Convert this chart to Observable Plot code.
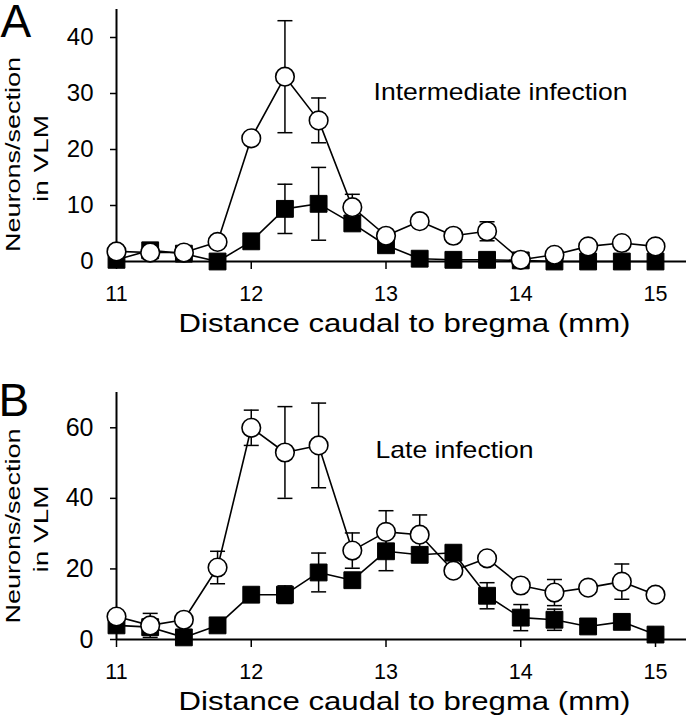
<!DOCTYPE html>
<html>
<head>
<meta charset="utf-8">
<script src="https://cdn.jsdelivr.net/npm/d3@7"></script>
<script src="https://cdn.jsdelivr.net/npm/@observablehq/plot@0.6"></script>
<style>
  html, body { margin: 0; padding: 0; background: #fff; }
  #chart { width: 689px; }
  #chart svg { display: block; }
</style>
</head>
<body>
<div id="chart"></div>
<script>
// ---- data ----
const distance = [11, 11.25, 11.5, 11.75, 12, 12.25, 12.5, 12.75, 13, 13.25, 13.5, 13.75, 14, 14.25, 14.5, 14.75, 15];
const xTicks = [11, 12, 13, 14, 15];

// Panel A: intermediate infection
const aOpen      = [1.8, 1.6, 1.6, 3.5, 22, 33, 25.2, 9.7, 4.6, 7.2, 4.6, 5.4, 0.3, 1.2, 2.7, 3.3, 2.7];
const aOpenErr   = [0, 0, 0, 0, 0, 10, 4, 2.3, 0, 0, 0, 1.7, 0, 0, 0, 0, 0];
const aFilled    = [0.3, 2, 1.4, 0, 3.6, 9.4, 10.3, 6.8, 2.9, 0.5, 0.3, 0.3, 0.2, 0, 0, 0, 0];
const aFilledErr = [0, 0, 0, 0, 0, 4.4, 6.5, 0, 0, 0, 0, 0, 0, 0, 0, 0, 0];
const aYTicks = [0, 10, 20, 30, 40];

// Panel B: late infection
const bOpen      = [6.5, 4, 5.6, 20.4, 60, 53, 55, 25.2, 30.5, 29.7, 19.5, 23, 15.3, 13.3, 14.7, 16.4, 12.7];
const bOpenErr   = [0, 3.4, 0, 4.6, 5, 13, 12, 5, 6, 5.6, 0, 0, 0, 3.7, 0, 5, 0];
const bFilled    = [4, 3.5, 0.6, 4, 12.7, 12.7, 19, 16.8, 25, 24, 24.6, 12.4, 6.2, 5.6, 3.7, 5, 1.4];
const bFilledErr = [0, 0, 0, 0, 0, 2.5, 5.5, 0, 5.5, 0, 2, 3.7, 3.7, 3, 0, 0, 0];
const bYTicks = [0, 20, 40, 60];

const xLabel = "Distance caudal to bregma (mm)";
const yLabel1 = "Neurons/section";
const yLabel2 = "in VLM";
const noteA = "Intermediate infection";
const noteB = "Late infection";

// ---- helpers ----
const rowsOf = (vals, errs) => distance.map((x, i) => ({x, y: vals[i], e: errs[i]}));
const errRowsOf = (rows) => rows.filter(d => d.e > 0).map(d => ({x: d.x, lo: d.y - d.e, hi: d.y + d.e}));
const capSymbol = {
  draw(ctx, size) {
    const w = Math.sqrt(size / Math.PI);
    ctx.moveTo(-w, 0);
    ctx.lineTo(w, 0);
  }
};

const stretch = {};
stretch[xLabel] = 452;
stretch[yLabel1] = 195;
stretch[yLabel2] = 87;
stretch[noteA] = 254;
stretch[noteB] = 158;

function panel(cfg) {
  const open = rowsOf(cfg.open, cfg.openErr);
  const filled = rowsOf(cfg.filled, cfg.filledErr);
  const errs = errRowsOf(filled).concat(errRowsOf(open));
  const svg = Plot.plot({
    width: 689,
    height: cfg.height,
    marginTop: cfg.marginTop,
    marginBottom: cfg.marginBottom,
    marginLeft: 116,
    marginRight: 3,
    style: {fontFamily: "'Liberation Sans', Arial, sans-serif", color: "black", background: "white", overflow: "visible"},
    x: {domain: [11, 15.23]},
    y: {domain: [0, cfg.yMax]},
    marks: [
      Plot.ruleX(errs, {x: "x", y1: "lo", y2: "hi", stroke: "black", strokeWidth: 1.5}),
      Plot.dot(errs, {x: "x", y: "hi", symbol: capSymbol, r: 7.5, stroke: "black", strokeWidth: 1.5}),
      Plot.dot(errs, {x: "x", y: "lo", symbol: capSymbol, r: 7.5, stroke: "black", strokeWidth: 1.5}),
      Plot.line(filled, {x: "x", y: "y", stroke: "black", strokeWidth: 1.6}),
      Plot.line(open, {x: "x", y: "y", stroke: "black", strokeWidth: 1.6}),
      Plot.ruleY([0], {stroke: "black", strokeWidth: 2}),
      Plot.ruleX([11], {stroke: "black", strokeWidth: 2}),
      Plot.axisY({ticks: cfg.yTicks, tickSize: 6, tickPadding: 17, fontSize: cfg.yFont, label: null, strokeWidth: 1.5, tickFormat: d => String(d)}),
      Plot.axisX({ticks: xTicks, tickSize: 8, tickPadding: 16, fontSize: 21.5, label: null, strokeWidth: 1.5, tickFormat: d => String(d)}),
      Plot.dot(filled, {x: "x", y: "y", symbol: "square", r: 9.5, fill: "black", stroke: "black", strokeWidth: 1}),
      Plot.dot(open, {x: "x", y: "y", r: 9.3, fill: "white", stroke: "black", strokeWidth: 1.6}),
      Plot.text([cfg.letter], {text: d => d, frameAnchor: "top-left", textAnchor: "start", lineAnchor: "middle", dx: cfg.letterDx, dy: cfg.letterDy, fontSize: 46}),
      Plot.text([cfg.note], {text: d => d, frameAnchor: "top-left", textAnchor: "start", lineAnchor: "middle", dx: cfg.noteDx, dy: cfg.noteDy, fontSize: 24}),
      Plot.text([xLabel], {text: d => d, frameAnchor: "bottom", textAnchor: "middle", lineAnchor: "middle", dx: 3, dy: 62, fontSize: 25}),
      Plot.text([yLabel1], {text: d => d, frameAnchor: "left", rotate: -90, textAnchor: "middle", lineAnchor: "middle", dx: -103, dy: cfg.label1Dy, fontSize: 20}),
      Plot.text([yLabel2], {text: d => d, frameAnchor: "left", rotate: -90, textAnchor: "middle", lineAnchor: "middle", dx: -75, dy: cfg.label2Dy, fontSize: 20})
    ]
  });
  d3.select(svg).selectAll("text").each(function () {
    const t = this.textContent;
    if (stretch[t] && this.children.length === 0) {
      this.setAttribute("textLength", stretch[t]);
      this.setAttribute("lengthAdjust", "spacingAndGlyphs");
    }
  });
  return svg;
}

const chart = document.getElementById("chart");
chart.appendChild(panel({
  open: aOpen, openErr: aOpenErr, filled: aFilled, filledErr: aFilledErr,
  yMax: 45, yTicks: aYTicks, yFont: 24, height: 340, marginTop: 9, marginBottom: 79,
  letter: "A", letterDx: -116, letterDy: 13,
  note: noteA, noteDx: 257, noteDy: 83,
  label1Dy: 19, label2Dy: 23
}));
chart.appendChild(panel({
  open: bOpen, openErr: bOpenErr, filled: bFilled, filledErr: bFilledErr,
  yMax: 70, yTicks: bYTicks, yFont: 25, height: 379, marginTop: 52, marginBottom: 80,
  letter: "B", letterDx: -118, letterDy: 9,
  note: noteB, noteDx: 259, noteDy: 58,
  label1Dy: 10, label2Dy: 13
}));
</script>
</body>
</html>
